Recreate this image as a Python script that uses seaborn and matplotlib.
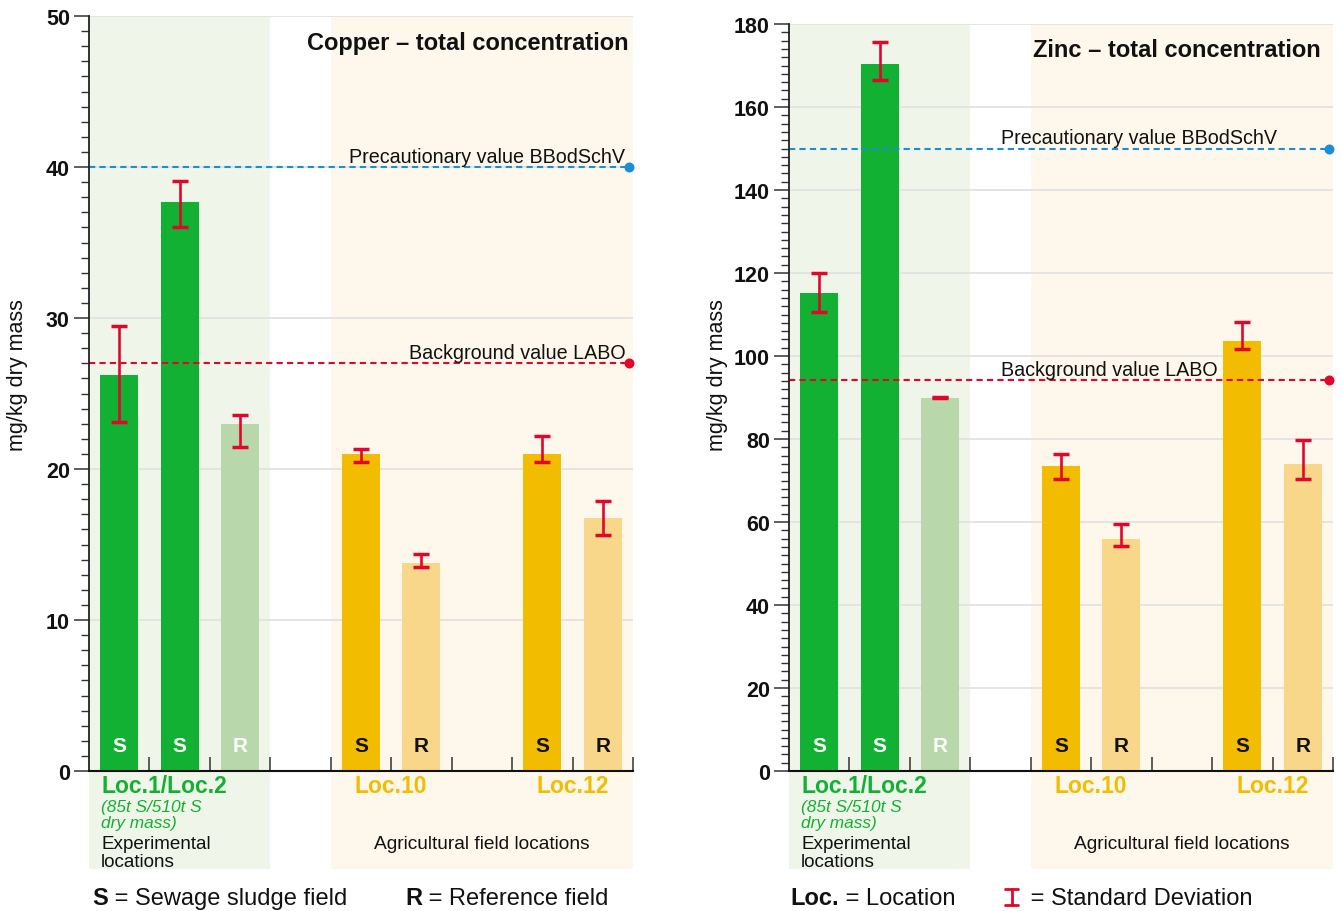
import numpy as np
import pandas as pd
import matplotlib
matplotlib.use("Agg")
import matplotlib.pyplot as plt
import matplotlib.transforms as mtransforms
from matplotlib.lines import Line2D
from matplotlib.patches import Rectangle
from matplotlib.ticker import MultipleLocator
import seaborn as sns

# ---- data -------------------------------------------------------------
slot_order = ["Loc.1 S", "Loc.2 S", "Loc.1/2 R", "gap a",
              "Loc.10 S", "Loc.10 R", "gap b", "Loc.12 S", "Loc.12 R"]
bar_keys = ["Loc.1 S", "Loc.2 S", "Loc.1/2 R",
            "Loc.10 S", "Loc.10 R", "Loc.12 S", "Loc.12 R"]
field_type = ["S", "S", "R", "S", "R", "S", "R"]

copper_mean = [26.2, 37.7, 23.0, 21.0, 13.8, 21.0, 16.75]
copper_low = [23.1, 36.0, 21.45, 20.45, 13.5, 20.45, 15.6]
copper_high = [29.5, 39.05, 23.55, 21.3, 14.4, 22.2, 17.9]

zinc_mean = [115.2, 170.4, 90.0, 73.6, 56.0, 103.7, 73.9]
zinc_low = [110.5, 166.5, 89.8, 70.4, 54.2, 101.7, 70.3]
zinc_high = [120.1, 175.7, 90.2, 76.5, 59.4, 108.1, 79.7]

copper_precaution, copper_background = 40, 27
zinc_precaution, zinc_background = 150, 94.3

# ---- style ------------------------------------------------------------
GREEN = "#13B133"
GREEN_LIGHT = "#B8D8AB"
YELLOW = "#F2BC00"
YELLOW_LIGHT = "#F8D78B"
BG_GREEN = "#F0F5EA"
BG_ORANGE = "#FEF7EC"
RED = "#E2062C"
BLUE = "#1A8FD3"
TEXT = "#111111"

bar_colors = [GREEN, GREEN, GREEN_LIGHT, YELLOW, YELLOW_LIGHT, YELLOW, YELLOW_LIGHT]
letter_colors = ["white", "white", "white", TEXT, TEXT, TEXT, TEXT]

sns.set_style("white")
plt.rcParams["font.family"] = ["Liberation Sans", "DejaVu Sans"]

W, H = 1342, 912
fig = plt.figure(figsize=(W / 100, H / 100), dpi=100)


def px_axes(left, right, top, bottom):
    return fig.add_axes([left / W, 1 - bottom / H, (right - left) / W, (bottom - top) / H])


def fy(py):
    return 1 - py / H


def draw_panel(ax, means, lows, highs, ymax, major, minor, title, title_x, title_py,
               precaution, background, label_x, label_ha):
    df = pd.DataFrame({"slot": bar_keys, "value": means})
    sns.barplot(data=df, x="slot", y="value", order=slot_order, hue="slot",
                hue_order=bar_keys, palette=dict(zip(bar_keys, bar_colors)),
                dodge=False, width=0.63, saturation=1, errorbar=None,
                legend=False, linewidth=0, ax=ax, zorder=2)
    pos = [slot_order.index(k) for k in bar_keys]

    ax.set_xlim(-0.5, 8.5)
    ax.set_ylim(0, ymax)
    ax.set_xlabel("")
    ax.set_ylabel("")
    ax.set_facecolor("white")

    blend_fig = mtransforms.blended_transform_factory(ax.transData, fig.transFigure)

    # shaded location groups, running from the axes top down into the label area
    top = ax.get_position().y1
    for x0, x1, col in [(-0.5, 2.5, BG_GREEN), (3.5, 8.5, BG_ORANGE)]:
        ax.add_patch(Rectangle((x0, fy(870)), x1 - x0, top - fy(870),
                               transform=blend_fig, facecolor=col,
                               edgecolor="none", zorder=0, clip_on=False))
    ax.set_axisbelow(True)

    # grid and ticks
    ax.yaxis.set_major_locator(MultipleLocator(major))
    ax.yaxis.set_minor_locator(MultipleLocator(minor))
    ax.grid(axis="y", which="major", color="#E2E2E2", lw=1.3, zorder=0.5)
    ax.grid(axis="x", visible=False)
    ax.set_xticks(np.arange(0.5, 9.0, 1.0))
    ax.set_xticklabels([])
    ax.tick_params(axis="x", which="major", direction="in", length=10,
                   width=1.1, color="#333333", bottom=True)
    ax.tick_params(axis="y", which="major", direction="out", length=10.8,
                   width=1.1, color="#333333", left=True, pad=3,
                   labelsize=15.5, labelcolor=TEXT)
    ax.tick_params(axis="y", which="minor", direction="out", length=5.8,
                   width=1.0, color="#333333", left=True)
    for lab in ax.get_yticklabels():
        lab.set_fontweight("bold")
    for s in ["top", "right"]:
        ax.spines[s].set_visible(False)
    ax.spines["left"].set_color("#222222")
    ax.spines["left"].set_linewidth(1.3)
    ax.spines["bottom"].set_color("#111111")
    ax.spines["bottom"].set_linewidth(1.5)
    ax.spines["left"].set_zorder(4)
    ax.spines["bottom"].set_zorder(4)

    # standard deviation bars
    means_a = np.array(means)
    yerr = [means_a - np.array(lows), np.array(highs) - means_a]
    ax.errorbar(pos, means, yerr=yerr, fmt="none", ecolor=RED, elinewidth=1.9,
                capsize=5.5, capthick=2.5, zorder=5)

    # S / R letters at the foot of each bar
    for p, t, c in zip(pos, field_type, letter_colors):
        ax.text(p, fy(752), t, transform=blend_fig, ha="center", va="baseline",
                fontsize=15, fontweight="bold", color=c, zorder=6)

    # reference values
    for val, col, txt in [(precaution, BLUE, "Precautionary value BBodSchV"),
                          (background, RED, "Background value LABO")]:
        ax.plot([-0.5, 8.43], [val, val], color=col, lw=1.5,
                dashes=(3, 2), zorder=3, clip_on=False)
        ax.plot([8.43], [val], "o", color=col, ms=7.2, mec="none",
                zorder=6, clip_on=False)
        ax.text(label_x, val, txt, ha=label_ha, va="baseline", fontsize=14.2,
                color=TEXT, zorder=6,
                transform=mtransforms.offset_copy(ax.transData, fig=fig,
                                                  y=5, units="dots"))

    ax.text(title_x, fy(title_py), title, transform=blend_fig, ha="right",
            va="baseline", fontsize=17, fontweight="bold", color=TEXT, zorder=6)

    # location labels under the axis
    ax.text(-0.30, fy(793), "Loc.1/Loc.2", transform=blend_fig, ha="left",
            va="baseline", fontsize=16.5, fontweight="bold", color=GREEN)
    ax.text(-0.30, fy(812.5), "(85t S/510t S", transform=blend_fig, ha="left",
            va="baseline", fontsize=12.4, style="italic", color=GREEN)
    ax.text(-0.30, fy(828), "dry mass)", transform=blend_fig, ha="left",
            va="baseline", fontsize=12.4, style="italic", color=GREEN)
    ax.text(-0.30, fy(849), "Experimental", transform=blend_fig, ha="left",
            va="baseline", fontsize=13.6, color=TEXT)
    ax.text(-0.30, fy(867), "locations", transform=blend_fig, ha="left",
            va="baseline", fontsize=13.6, color=TEXT)
    ax.text(4.5, fy(793), "Loc.10", transform=blend_fig, ha="center",
            va="baseline", fontsize=16.5, fontweight="bold", color=YELLOW)
    ax.text(7.5, fy(793), "Loc.12", transform=blend_fig, ha="center",
            va="baseline", fontsize=16.5, fontweight="bold", color=YELLOW)
    ax.text(6.0, fy(849), "Agricultural field locations", transform=blend_fig,
            ha="center", va="baseline", fontsize=13.8, color=TEXT)


ax_cu = px_axes(89, 633, 17, 772)
ax_zn = px_axes(789, 1333, 25, 772)

draw_panel(ax_cu, copper_mean, copper_low, copper_high, 50, 10, 1,
           "Copper \u2013 total concentration", 8.42, 50,
           copper_precaution, copper_background, 8.37, "right")
draw_panel(ax_zn, zinc_mean, zinc_low, zinc_high, 180, 20, 2,
           "Zinc \u2013 total concentration", 8.29, 57,
           zinc_precaution, zinc_background, 3.0, "left")

fig.text(18 / W, fy(375), "mg/kg dry mass", rotation=90, ha="center",
         va="center", fontsize=15.5, color=TEXT)
fig.text(717 / W, fy(375), "mg/kg dry mass", rotation=90, ha="center",
         va="center", fontsize=15.5, color=TEXT)

# key line at the bottom
renderer = fig.canvas.get_renderer()


def key(x_px, bold, rest, bold_color=TEXT):
    t = fig.text(x_px / W, fy(905), bold, ha="left", va="baseline",
                 fontsize=17, fontweight="bold", color=bold_color)
    bb = t.get_window_extent(renderer)
    fig.text(bb.x1 / W, fy(905), rest, ha="left", va="baseline",
             fontsize=17, color=TEXT)


key(92, "S", " = Sewage sludge field")
key(405, "R", " = Reference field")
key(790, "Loc.", " = Location")

# red I-beam symbol for the standard deviation
x0, x1, xm = 1005 / W, 1018 / W, 1011.5 / W
for xs, ys in [([xm, xm], [fy(890), fy(906)]),
               ([x0, x1], [fy(890), fy(890)]),
               ([x0, x1], [fy(906), fy(906)])]:
    fig.add_artist(Line2D(xs, ys, color=RED, lw=2.0, transform=fig.transFigure))
fig.text(1024 / W, fy(905), " = Standard Deviation", ha="left", va="baseline",
         fontsize=17, color=TEXT)

fig.savefig("out.png", dpi=100, facecolor="white")
